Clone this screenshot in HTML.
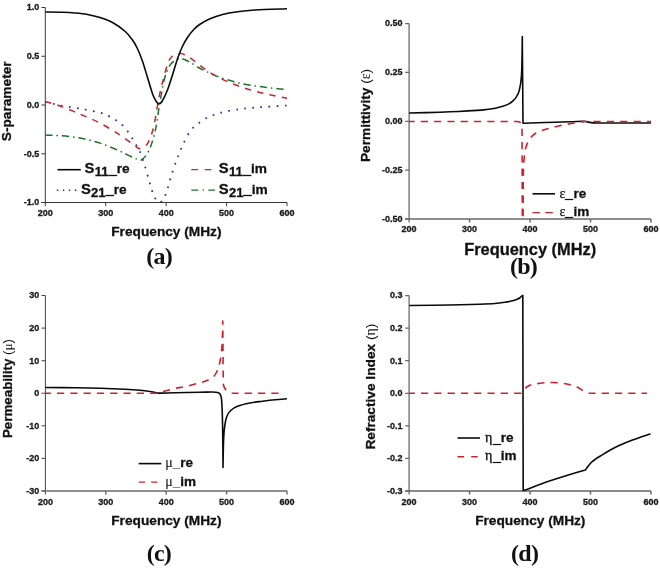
<!DOCTYPE html>
<html lang="en">
<head>
<meta charset="utf-8">
<title>S-parameters, permittivity, permeability and refractive index versus frequency</title>
<style>
html,body{margin:0;padding:0;background:#fff;}
body{width:660px;height:568px;overflow:hidden;}
svg{display:block;will-change:transform;}
text{white-space:pre;stroke:#111;stroke-width:.3px;paint-order:stroke fill;}
.rg{stroke:none;}
</style>
</head>
<body>
<svg width="660" height="568" viewBox="0 0 660 568" role="img" aria-label="Four-panel figure: (a) S-parameter, (b) permittivity, (c) permeability, (d) refractive index versus frequency in MHz">
<rect x="0" y="0" width="660" height="568" fill="#ffffff"/>
<path d="M45.3 7.5V206.1M45.3 7.5h-3.9M45.3 56.25h-3.9M45.3 105h-3.9M45.3 153.75h-3.9M45.3 202.5h-3.9" fill="none" stroke="#3a3a3a" stroke-width="1"/>
<path d="M41.4 202.5H287M105.72 202.5v3.6M166.15 202.5v3.6M226.57 202.5v3.6M287 202.5v3.6" fill="none" stroke="#3a3a3a" stroke-width="1"/>
<g font-family='"Liberation Sans", Arial, Helvetica, sans-serif' font-weight="700" font-size="9" fill="#1a1a1a" text-anchor="end">
<text x="39.2" y="10.4">1.0</text>
<text x="39.2" y="59.15">0.5</text>
<text x="39.2" y="107.9">0.0</text>
<text x="39.2" y="156.65">-0.5</text>
<text x="39.2" y="205.4">-1.0</text>
</g>
<g font-family='"Liberation Sans", Arial, Helvetica, sans-serif' font-weight="700" font-size="9" fill="#1a1a1a" text-anchor="middle">
<text x="45.3" y="216.4">200</text>
<text x="105.72" y="216.4">300</text>
<text x="166.15" y="216.4">400</text>
<text x="226.57" y="216.4">500</text>
<text x="287" y="216.4">600</text>
</g>
<path d="M45.3 101.6C47.75 102.23 54.22 104.23 60 105.4C65.78 106.57 73.33 107.38 80 108.6C86.67 109.82 95 111.35 100 112.7C105 114.05 106.67 114.97 110 116.7C113.33 118.43 116.95 120.53 120 123.1C123.05 125.67 125.92 128.93 128.3 132.1C130.68 135.27 132.47 139.08 134.3 142.1C136.13 145.12 137.63 146.52 139.3 150.2C140.97 153.88 142.63 159.02 144.3 164.2C145.97 169.38 147.8 176.28 149.3 181.3C150.8 186.32 151.78 190.8 153.3 194.3C154.82 197.8 156.72 201.47 158.4 202.3C160.08 203.13 161.9 201.47 163.4 199.3C164.9 197.13 166.07 193.32 167.4 189.3C168.73 185.28 169.9 179.98 171.4 175.2C172.9 170.42 175.02 164.43 176.4 160.6C177.78 156.77 178.6 154.88 179.7 152.2C180.8 149.52 181.72 147.25 183 144.5C184.28 141.75 185.75 138.45 187.4 135.7C189.05 132.95 190.7 130.32 192.9 128C195.1 125.68 198.03 123.63 200.6 121.8C203.17 119.97 205.73 118.23 208.3 117C210.87 115.77 213.25 115.28 216 114.4C218.75 113.52 221.13 112.55 224.8 111.7C228.47 110.85 233.97 109.88 238 109.3C242.03 108.72 244.6 108.6 249 108.2C253.4 107.8 258.07 107.33 264.4 106.9C270.73 106.47 283.23 105.82 287 105.6" fill="none" stroke="#2a2ab8" stroke-width="1.75" stroke-linejoin="round" stroke-dasharray="1.7 6.4"/>
<path d="M45.3 135.1C47.75 135.2 54.22 135.2 60 135.7C65.78 136.2 73.33 136.87 80 138.1C86.67 139.33 93.33 140.92 100 143.1C106.67 145.28 114.95 149.02 120 151.2C125.05 153.38 127.42 154.85 130.3 156.2C133.18 157.55 135.52 158.62 137.3 159.3C139.08 159.98 140.38 160.13 141 160.3L141 160.3C141.9 159.43 144.73 157.58 146.4 155.1C148.07 152.62 149.63 149.03 151 145.4C152.37 141.77 153.6 137.3 154.6 133.3C155.6 129.3 156.17 126.28 157 121.4C157.83 116.52 158.38 110.97 159.6 104C160.82 97.03 162.6 86.05 164.3 79.6C166 73.15 167.78 68.6 169.8 65.3C171.82 62 174.38 60.9 176.4 59.8C178.42 58.7 179.7 58.33 181.9 58.7C184.1 59.07 186.85 60.53 189.6 62C192.35 63.47 195.47 65.85 198.4 67.5C201.33 69.15 204.27 70.5 207.2 71.9C210.13 73.3 212.7 74.62 216 75.9C219.3 77.18 223.33 78.43 227 79.6C230.67 80.77 234.33 81.98 238 82.9C241.67 83.82 245.33 84.48 249 85.1C252.67 85.72 256.33 86.12 260 86.6C263.67 87.08 266.5 87.52 271 88C275.5 88.48 284.33 89.25 287 89.5" fill="none" stroke="#1c7429" stroke-width="1.5" stroke-linejoin="round" stroke-dasharray="7.3 3.9 1.5 3.9"/>
<path d="M45.3 101.6C47.75 102.33 54.22 103.92 60 106C65.78 108.08 73.33 111.25 80 114.1C86.67 116.95 93.33 119.6 100 123.1C106.67 126.6 114.28 131.42 120 135.1C125.72 138.78 131.08 142.92 134.3 145.2C137.52 147.48 138.47 148.2 139.3 148.8L139.3 148.8C140.33 148.33 143.72 147.7 145.5 146C147.28 144.3 148.53 142.27 150 138.6C151.47 134.93 152.87 130.53 154.3 124C155.73 117.47 157.12 106.8 158.6 99.4C160.08 92 161.7 85.47 163.2 79.6C164.7 73.73 166.13 68.05 167.6 64.2C169.07 60.35 169.8 58.27 172 56.5C174.2 54.73 177.87 53.42 180.8 53.6C183.73 53.78 186.67 55.83 189.6 57.6C192.53 59.37 195.47 62 198.4 64.2C201.33 66.4 204.27 68.85 207.2 70.8C210.13 72.75 212.7 74.13 216 75.9C219.3 77.67 223.33 79.75 227 81.4C230.67 83.05 234.33 84.45 238 85.8C241.67 87.15 245.33 88.4 249 89.5C252.67 90.6 256.33 91.48 260 92.4C263.67 93.32 266.5 94.02 271 95C275.5 95.98 284.33 97.75 287 98.3" fill="none" stroke="#cc222d" stroke-width="1.5" stroke-linejoin="round" stroke-dasharray="6.3 6.3"/>
<path d="M45.3 12C48.17 12.04 57.55 12.08 62.5 12.25C67.45 12.42 70.83 12.62 75 13C79.17 13.38 83.33 13.75 87.5 14.5C91.67 15.25 95.83 16.17 100 17.5C104.17 18.83 108.33 20.21 112.5 22.5C116.67 24.79 121.67 28.33 125 31.25C128.33 34.17 130.42 37.08 132.5 40C134.58 42.92 135.83 45.21 137.5 48.75C139.17 52.29 140.83 56.46 142.5 61.25C144.17 66.04 145.83 72.08 147.5 77.5C149.17 82.92 151.08 89.83 152.5 93.75C153.92 97.67 154.96 99.31 156 101C157.04 102.69 157.75 103.82 158.75 103.9C159.75 103.98 160.54 103.82 162 101.5C163.46 99.18 165.75 94.42 167.5 90C169.25 85.58 170.83 80.21 172.5 75C174.17 69.79 175.83 63.54 177.5 58.75C179.17 53.96 180.83 49.79 182.5 46.25C184.17 42.71 185.62 40.29 187.5 37.5C189.38 34.71 191.67 31.71 193.75 29.5C195.83 27.29 197.29 26.04 200 24.25C202.71 22.46 206.25 20.38 210 18.75C213.75 17.12 217.92 15.67 222.5 14.5C227.08 13.33 232.08 12.5 237.5 11.75C242.92 11 246.75 10.5 255 10C263.25 9.5 281.67 8.96 287 8.75" fill="none" stroke="#0a0a0a" stroke-width="1.6" stroke-linejoin="round"/>
<path d="M57.5 169.7H80.8" stroke="#0a0a0a" stroke-width="1.6" fill="none"/>
<text x="84.6" y="173.1" font-family='"Liberation Sans", Arial, Helvetica, sans-serif' font-weight="700" font-size="13.7" fill="#111"><tspan font-size="14.8">S</tspan><tspan font-size="13" dy="2.8" dx="0.2" letter-spacing="0.1">11</tspan><tspan stroke="#111" stroke-width="0.8" dy="-2.2" dx="0.3">_</tspan><tspan dx="0.2" dy="-0.6">re</tspan></text>
<path d="M56.8 190.2H78" stroke="#2a2ab8" stroke-width="1.5" stroke-dasharray="1.5 4.5" fill="none"/>
<text x="80.9" y="193.7" font-family='"Liberation Sans", Arial, Helvetica, sans-serif' font-weight="700" font-size="13.7" fill="#111"><tspan font-size="14.8">S</tspan><tspan font-size="13" dy="2.8" dx="0.2" letter-spacing="0.1">21</tspan><tspan stroke="#111" stroke-width="0.8" dy="-2.2" dx="0.3">_</tspan><tspan dx="0.2" dy="-0.6">re</tspan></text>
<path d="M191.3 169.7H212" stroke="#cc222d" stroke-width="1.3" stroke-dasharray="6.7 6.7" fill="none"/>
<text x="218.8" y="173.1" font-family='"Liberation Sans", Arial, Helvetica, sans-serif' font-weight="700" font-size="13.7" fill="#111"><tspan font-size="14.8">S</tspan><tspan font-size="13" dy="2.8" dx="0.2" letter-spacing="0.1">11</tspan><tspan stroke="#111" stroke-width="0.8" dy="-2.2" dx="0.3">_</tspan><tspan dx="0.2" dy="-0.6">im</tspan></text>
<path d="M191.3 190.1H215" stroke="#1c7429" stroke-width="1.3" stroke-dasharray="7 4.3 1.4 4.3" fill="none"/>
<text x="218.8" y="193.7" font-family='"Liberation Sans", Arial, Helvetica, sans-serif' font-weight="700" font-size="13.7" fill="#111"><tspan font-size="14.8">S</tspan><tspan font-size="13" dy="2.8" dx="0.2" letter-spacing="0.1">21</tspan><tspan stroke="#111" stroke-width="0.8" dy="-2.2" dx="0.3">_</tspan><tspan dx="0.2" dy="-0.6">im</tspan></text>
<text x="166.4" y="236.3" text-anchor="middle" font-family='"Liberation Sans", Arial, Helvetica, sans-serif' font-weight="700" font-size="13.7" fill="#111">Frequency (MHz)</text>
<text transform="translate(10.5 101.3) rotate(-90)" text-anchor="middle" font-family='"Liberation Sans", Arial, Helvetica, sans-serif' font-weight="700" font-size="13.7" fill="#111">S-parameter</text>
<text x="159.1" y="263.5" text-anchor="middle" font-family='"Liberation Serif", "Times New Roman", Times, serif' font-weight="700" font-size="24" letter-spacing="-0.7" class="rg" fill="#111">(a)</text>
<path d="M409.1 23.5V222.5M409.1 23.5h-3.9M409.1 72.4h-3.9M409.1 121.25h-3.9M409.1 170.1h-3.9M409.1 218.9h-3.9" fill="none" stroke="#666" stroke-width="1.25"/>
<path d="M405.2 218.9H651M469.58 218.9v3.6M530.05 218.9v3.6M590.52 218.9v3.6M651 218.9v3.6" fill="none" stroke="#686868" stroke-width="1.5"/>
<g font-family='"Liberation Sans", Arial, Helvetica, sans-serif' font-weight="700" font-size="9" fill="#1a1a1a" text-anchor="end">
<text x="402.5" y="26.4">0.50</text>
<text x="402.5" y="75.3">0.25</text>
<text x="402.5" y="124.15">0.00</text>
<text x="402.5" y="173">-0.25</text>
<text x="402.5" y="221.8">-0.50</text>
</g>
<g font-family='"Liberation Sans", Arial, Helvetica, sans-serif' font-weight="700" font-size="9" fill="#1a1a1a" text-anchor="middle">
<text x="409.1" y="232.4">200</text>
<text x="469.58" y="232.4">300</text>
<text x="530.05" y="232.4">400</text>
<text x="590.52" y="232.4">500</text>
<text x="651" y="232.4">600</text>
</g>
<path d="M409.1 113C414.25 112.87 431.77 112.45 440 112.2C448.23 111.95 452.33 111.8 458.5 111.5C464.67 111.2 472.38 110.73 477 110.4C481.62 110.07 483.12 109.87 486.2 109.5C489.28 109.13 492.73 108.73 495.5 108.2C498.27 107.67 500.65 106.98 502.8 106.3C504.95 105.62 506.7 105.02 508.4 104.1C510.1 103.18 511.7 101.97 513 100.8C514.3 99.63 515.27 98.48 516.2 97.1C517.13 95.72 517.97 94.2 518.6 92.5C519.23 90.8 519.6 88.9 520 86.9C520.4 84.9 520.72 83.12 521 80.5C521.28 77.88 521.52 75.83 521.7 71.2C521.88 66.57 522 58.48 522.1 52.7C522.2 46.92 522.27 39.2 522.3 36.5L523 123.25C526.67 123.12 537.17 122.75 545 122.5C552.83 122.25 563.54 121.95 570 121.75C576.46 121.55 580.42 121.19 583.75 121.3C587.08 121.41 587.29 122.12 590 122.4C592.71 122.68 589.83 122.9 600 123C610.17 123.1 642.5 123 651 123" fill="none" stroke="#0a0a0a" stroke-width="1.6" stroke-linejoin="round"/>
<path d="M409.1 121.5L517 121.5L517 121.5C517.58 121.67 519.67 121.75 520.5 122.5C521.33 123.25 521.75 125.42 522 126L522.3 218.5L523.1 218.5C523.13 211.25 523.11 185.17 523.3 175C523.49 164.83 523.76 162.29 524.25 157.5C524.74 152.71 525.29 149.38 526.25 146.25C527.21 143.12 528.54 140.83 530 138.75C531.46 136.67 532.5 135.29 535 133.75C537.5 132.21 541.25 130.75 545 129.5C548.75 128.25 553.33 127.21 557.5 126.25C561.67 125.29 565.83 124.47 570 123.75C574.17 123.03 579.17 122.28 582.5 121.9C585.83 121.53 578.58 121.57 590 121.5C601.42 121.43 640.83 121.5 651 121.5" fill="none" stroke="#cc222d" stroke-width="1.6" stroke-linejoin="round" stroke-dasharray="7.2 6.1" stroke-dashoffset="1.6"/>
<path d="M532.5 193.8H555" stroke="#0a0a0a" stroke-width="1.6" fill="none"/>
<text x="559.4" y="197.6" font-family='"Liberation Sans", Arial, Helvetica, sans-serif' font-weight="700" font-size="13.5" fill="#111"><tspan font-family='"Liberation Serif", "Times New Roman", Times, serif' font-weight="400" font-size="14" stroke-width="0.25">ε</tspan><tspan stroke="#111" stroke-width="0.7" dy="0.5" dx="0">_</tspan><tspan dy="-0.5" dx="0.8">re</tspan></text>
<path d="M532.5 212.6H555" stroke="#cc222d" stroke-width="1.4" stroke-dasharray="7.5 5.3" fill="none"/>
<text x="559.4" y="215.9" font-family='"Liberation Sans", Arial, Helvetica, sans-serif' font-weight="700" font-size="13.5" fill="#111"><tspan font-family='"Liberation Serif", "Times New Roman", Times, serif' font-weight="400" font-size="14" stroke-width="0.25">ε</tspan><tspan stroke="#111" stroke-width="0.7" dy="0.5" dx="0">_</tspan><tspan dy="-0.5" dx="0.8">im</tspan></text>
<text x="530.2" y="254.7" text-anchor="middle" font-family='"Liberation Sans", Arial, Helvetica, sans-serif' font-weight="700" font-size="16.4" fill="#111">Frequency (MHz)</text>
<text transform="translate(369.7 115.5) rotate(-90)" text-anchor="middle" font-family='"Liberation Sans", Arial, Helvetica, sans-serif' font-weight="700" font-size="13.7" fill="#111">Permittivity <tspan font-weight="400" class="rg">(<tspan font-family='"Liberation Serif", "Times New Roman", Times, serif'>ε</tspan>)</tspan></text>
<text x="523.5" y="274" text-anchor="middle" font-family='"Liberation Serif", "Times New Roman", Times, serif' font-weight="700" font-size="24" letter-spacing="-0.7" class="rg" fill="#111">(b)</text>
<path d="M45.4 295.5V494.5M45.4 295.5h-3.9M45.4 328.1h-3.9M45.4 360.7h-3.9M45.4 393.25h-3.9M45.4 425.8h-3.9M45.4 458.4h-3.9M45.4 491h-3.9" fill="none" stroke="#444" stroke-width="1"/>
<path d="M41.5 490.9H287M105.8 490.9v3.6M166.2 490.9v3.6M226.6 490.9v3.6M287 490.9v3.6" fill="none" stroke="#6a6a6a" stroke-width="1.45"/>
<g font-family='"Liberation Sans", Arial, Helvetica, sans-serif' font-weight="700" font-size="9" fill="#1a1a1a" text-anchor="end">
<text x="39.3" y="298.4">30</text>
<text x="39.3" y="331">20</text>
<text x="39.3" y="363.6">10</text>
<text x="39.3" y="396.15">0</text>
<text x="39.3" y="428.7">-10</text>
<text x="39.3" y="461.3">-20</text>
<text x="39.3" y="493.9">-30</text>
</g>
<g font-family='"Liberation Sans", Arial, Helvetica, sans-serif' font-weight="700" font-size="9" fill="#1a1a1a" text-anchor="middle">
<text x="45.4" y="504.5">200</text>
<text x="105.8" y="504.5">300</text>
<text x="166.2" y="504.5">400</text>
<text x="226.6" y="504.5">500</text>
<text x="287" y="504.5">600</text>
</g>
<path d="M45.3 387.5C50.25 387.54 65.88 387.62 75 387.75C84.12 387.88 91.67 388 100 388.25C108.33 388.5 118.33 388.92 125 389.25C131.67 389.58 135.83 389.88 140 390.25C144.17 390.62 147.29 391.08 150 391.5C152.71 391.92 154.58 392.48 156.25 392.75C157.92 393.02 156.88 393.1 160 393.1C163.12 393.1 168.33 392.89 175 392.75C181.67 392.61 193.75 392.38 200 392.25C206.25 392.12 209.58 391.96 212.5 392C215.42 392.04 216.25 392.17 217.5 392.5C218.75 392.83 219.33 392.92 220 394C220.67 395.08 221.12 395.67 221.5 399C221.88 402.33 222.08 407.17 222.3 414C222.52 420.83 222.68 431.08 222.8 440C222.92 448.92 222.97 462.92 223 467.5L223 467.5C223.08 463.33 223.29 448.75 223.5 442.5C223.71 436.25 223.92 433.54 224.25 430C224.58 426.46 224.96 423.75 225.5 421.25C226.04 418.75 226.54 416.88 227.5 415C228.46 413.12 229.58 411.46 231.25 410C232.92 408.54 234.38 407.42 237.5 406.25C240.62 405.08 245.83 403.83 250 403C254.17 402.17 258.33 401.79 262.5 401.25C266.67 400.71 270.92 400.17 275 399.75C279.08 399.33 285 398.92 287 398.75" fill="none" stroke="#0a0a0a" stroke-width="1.6" stroke-linejoin="round"/>
<path d="M45.3 393.25L158.75 393.25C159.79 392.88 162.29 391.79 165 391C167.71 390.21 171.25 389.33 175 388.5C178.75 387.67 183.33 386.96 187.5 386C191.67 385.04 196.67 383.71 200 382.75C203.33 381.79 205.21 381.29 207.5 380.25C209.79 379.21 212.08 378.17 213.75 376.5C215.42 374.83 216.46 372.75 217.5 370.25C218.54 367.75 219.29 365.04 220 361.5C220.71 357.96 221.33 353.58 221.75 349C222.17 344.42 222.33 338.67 222.5 334C222.67 329.33 222.71 323.17 222.75 321L223.25 384C223.46 384.62 223.79 386.5 224.5 387.75C225.21 389 226.17 390.58 227.5 391.5C228.83 392.42 231.67 392.96 232.5 393.25L283 393.25" fill="none" stroke="#cc222d" stroke-width="1.6" stroke-linejoin="round" stroke-dasharray="7.2 6.1" stroke-dashoffset="1.6"/>
<path d="M138.7 463.6H161.3" stroke="#0a0a0a" stroke-width="1.6" fill="none"/>
<text x="165.3" y="466.8" font-family='"Liberation Sans", Arial, Helvetica, sans-serif' font-weight="700" font-size="13.5" fill="#111"><tspan font-family='"Liberation Serif", "Times New Roman", Times, serif' font-weight="400" font-size="14" stroke-width="0.1">μ</tspan><tspan stroke="#111" stroke-width="0" dy="0.4" dx="0">_</tspan><tspan dy="-0.4" dx="0">re</tspan></text>
<path d="M138.7 482.1H161.3" stroke="#cc222d" stroke-width="1.4" stroke-dasharray="6.3 6.2" fill="none"/>
<text x="165.3" y="485.9" font-family='"Liberation Sans", Arial, Helvetica, sans-serif' font-weight="700" font-size="13.5" fill="#111"><tspan font-family='"Liberation Serif", "Times New Roman", Times, serif' font-weight="400" font-size="14" stroke-width="0.1">μ</tspan><tspan stroke="#111" stroke-width="0" dy="0.4" dx="0">_</tspan><tspan dy="-0.4" dx="0">im</tspan></text>
<text x="166.4" y="524.5" text-anchor="middle" font-family='"Liberation Sans", Arial, Helvetica, sans-serif' font-weight="700" font-size="13.7" fill="#111">Frequency (MHz)</text>
<text transform="translate(11.8 388.5) rotate(-90)" text-anchor="middle" font-family='"Liberation Sans", Arial, Helvetica, sans-serif' font-weight="700" font-size="13.35" fill="#111">Permeability <tspan font-weight="400" class="rg">(<tspan font-family='"Liberation Serif", "Times New Roman", Times, serif'>μ</tspan>)</tspan></text>
<text x="158.9" y="560.5" text-anchor="middle" font-family='"Liberation Serif", "Times New Roman", Times, serif' font-weight="700" font-size="24" letter-spacing="-0.7" class="rg" fill="#111">(c)</text>
<path d="M409.1 295.5V494.5M409.1 295.5h-3.9M409.1 328.1h-3.9M409.1 360.7h-3.9M409.1 393.25h-3.9M409.1 425.8h-3.9M409.1 458.4h-3.9M409.1 491h-3.9" fill="none" stroke="#666" stroke-width="1.25"/>
<path d="M405.2 490.9H651M469.58 490.9v3.6M530.05 490.9v3.6M590.52 490.9v3.6M651 490.9v3.6" fill="none" stroke="#646464" stroke-width="1.45"/>
<g font-family='"Liberation Sans", Arial, Helvetica, sans-serif' font-weight="700" font-size="9" fill="#1a1a1a" text-anchor="end">
<text x="402.5" y="298.4">0.3</text>
<text x="402.5" y="331">0.2</text>
<text x="402.5" y="363.6">0.1</text>
<text x="402.5" y="396.15">0.0</text>
<text x="402.5" y="428.7">-0.1</text>
<text x="402.5" y="461.3">-0.2</text>
<text x="402.5" y="493.9">-0.3</text>
</g>
<g font-family='"Liberation Sans", Arial, Helvetica, sans-serif' font-weight="700" font-size="9" fill="#1a1a1a" text-anchor="middle">
<text x="409.1" y="504.6">200</text>
<text x="469.58" y="504.6">300</text>
<text x="530.05" y="504.6">400</text>
<text x="590.52" y="504.6">500</text>
<text x="651" y="504.6">600</text>
</g>
<path d="M409.3 305.5C416.08 305.42 438.22 305.22 450 305C461.78 304.78 472.5 304.45 480 304.2C487.5 303.95 490.83 303.82 495 303.5C499.17 303.18 502.08 302.71 505 302.25C507.92 301.79 510.42 301.29 512.5 300.75C514.58 300.21 516.25 299.5 517.5 299C518.75 298.5 519.25 298.29 520 297.75C520.75 297.21 521.53 296.14 522 295.75C522.47 295.36 522.67 295.46 522.8 295.4L523.2 490.5C523.92 490.29 523.87 490.58 527.5 489.25C531.13 487.92 537.92 484.96 545 482.5C552.08 480.04 563.25 476.58 570 474.5C576.75 472.42 582.92 470.75 585.5 470L585.5 470C585.83 469.5 586.88 467.88 587.5 467C588.12 466.12 588.62 465.5 589.25 464.75C589.88 464 590.29 463.38 591.25 462.5C592.21 461.62 593.54 460.54 595 459.5C596.46 458.46 596.67 458.25 600 456.25C603.33 454.25 609.58 450.21 615 447.5C620.42 444.79 626.58 442.29 632.5 440C638.42 437.71 647.5 434.79 650.5 433.75" fill="none" stroke="#0a0a0a" stroke-width="1.6" stroke-linejoin="round"/>
<path d="M409.3 393.25L521.25 393.25C522.29 392.12 525.21 388.04 527.5 386.5C529.79 384.96 532.08 384.62 535 384C537.92 383.38 542.08 383 545 382.75C547.92 382.5 549.58 382.42 552.5 382.5C555.42 382.58 559.58 382.88 562.5 383.25C565.42 383.62 567.5 384.08 570 384.75C572.5 385.42 575.42 386.33 577.5 387.25C579.58 388.17 580.83 389.33 582.5 390.25C584.17 391.17 586.25 392.25 587.5 392.75C588.75 393.25 589.58 393.17 590 393.25L647 393.25" fill="none" stroke="#cc222d" stroke-width="1.6" stroke-linejoin="round" stroke-dasharray="7.2 6.1" stroke-dashoffset="1.6"/>
<path d="M457.5 438H480" stroke="#0a0a0a" stroke-width="1.6" fill="none"/>
<text x="485" y="441.8" font-family='"Liberation Sans", Arial, Helvetica, sans-serif' font-weight="700" font-size="13.5" fill="#111"><tspan font-family='"Liberation Serif", "Times New Roman", Times, serif' font-weight="400" font-size="14" stroke-width="0.35">η</tspan><tspan stroke="#111" stroke-width="0.7" dy="1" dx="1">_</tspan><tspan dy="-1" dx="-0.2">re</tspan></text>
<path d="M457.5 456.7H480" stroke="#cc222d" stroke-width="1.4" stroke-dasharray="6.5 7.2" fill="none"/>
<text x="485" y="460.2" font-family='"Liberation Sans", Arial, Helvetica, sans-serif' font-weight="700" font-size="13.5" fill="#111"><tspan font-family='"Liberation Serif", "Times New Roman", Times, serif' font-weight="400" font-size="14" stroke-width="0.35">η</tspan><tspan stroke="#111" stroke-width="0.7" dy="1" dx="1">_</tspan><tspan dy="-1" dx="-0.2">im</tspan></text>
<text x="530.3" y="525" text-anchor="middle" font-family='"Liberation Sans", Arial, Helvetica, sans-serif' font-weight="700" font-size="13.7" fill="#111">Frequency (MHz)</text>
<text transform="translate(374.6 386.7) rotate(-90)" text-anchor="middle" font-family='"Liberation Sans", Arial, Helvetica, sans-serif' font-weight="700" font-size="13.7" fill="#111">Refractive Index <tspan font-weight="400" class="rg">(<tspan font-family='"Liberation Serif", "Times New Roman", Times, serif'>η</tspan>)</tspan></text>
<text x="524.7" y="561.4" text-anchor="middle" font-family='"Liberation Serif", "Times New Roman", Times, serif' font-weight="700" font-size="24" letter-spacing="-0.7" class="rg" fill="#111">(d)</text>
</svg>
</body>
</html>
